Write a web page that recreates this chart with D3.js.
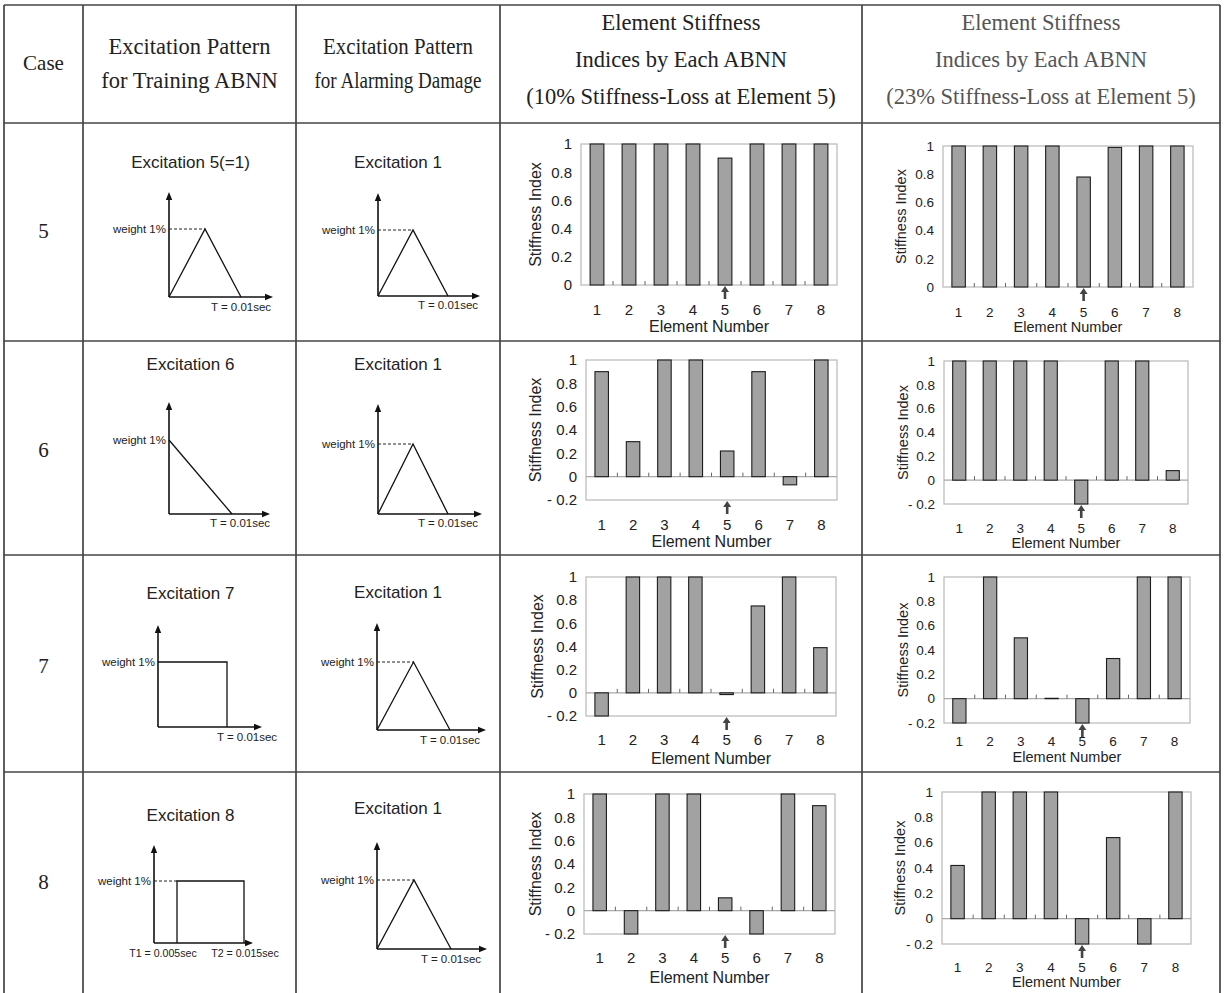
<!DOCTYPE html>
<html>
<head>
<meta charset="utf-8">
<script src="https://cdn.jsdelivr.net/npm/d3@7"></script>
<style>
  body { margin: 0; background: #fff; }
  svg { display: block; }
</style>
</head>
<body>
<div id="chart"></div>
<script>
// ---- data ----
const cases = ["5", "6", "7", "8"];
const headers = [
    ["Case"],
    ["Excitation Pattern", "for Training ABNN"],
    ["Excitation Pattern", "for Alarming Damage"],
    ["Element Stiffness", "Indices by Each ABNN", "(10% Stiffness-Loss at Element 5)"],
    ["Element Stiffness", "Indices by Each ABNN", "(23% Stiffness-Loss at Element 5)"]
];
const trainingTitles = ["Excitation 5(=1)", "Excitation 6", "Excitation 7", "Excitation 8"];
const alarmTitles = ["Excitation 1", "Excitation 1", "Excitation 1", "Excitation 1"];

// excitation shapes as [time (sec), weight (1 = 1%)]
const triangleShape = [[0, 0], [0.005, 1], [0.01, 0]];
const trainingShapes = [
    triangleShape,
    [[0, 1], [0.01, 0]],
    [[0, 1], [0.01, 1], [0.01, 0]],
    [[0.005, 0], [0.005, 1], [0.015, 1], [0.015, 0]]
];
const trainingTimeLabels = [
    [[0.01, "T = 0.01sec"]],
    [[0.01, "T = 0.01sec"]],
    [[0.01, "T = 0.01sec"]],
    [[0.005, "T1 = 0.005sec"], [0.015, "T2 = 0.015sec"]]
];
const alarmTimeLabels = [[0.01, "T = 0.01sec"]];
const weightLabel = "weight 1%";

const elements = [1, 2, 3, 4, 5, 6, 7, 8];
const damagedElement = 5;
const index10 = [
    [1, 1, 1, 1, 0.9, 1, 1, 1],
    [0.9, 0.3, 1, 1, 0.22, 0.9, -0.07, 1],
    [-0.2, 1, 1, 1, -0.015, 0.75, 1, 0.39],
    [1, -0.2, 1, 1, 0.11, -0.2, 1, 0.9]
];
const index23 = [
    [1, 1, 1, 1, 0.78, 0.99, 1, 1],
    [1, 1, 1, 1, -0.2, 1, 1, 0.08],
    [-0.2, 1, 0.5, 0.003, -0.2, 0.33, 1, 1],
    [0.42, 1, 1, 1, -0.2, 0.64, -0.2, 1]
];
const yTickValues = [-0.2, 0, 0.2, 0.4, 0.6, 0.8, 1];

// ---- layout ----
const W = 1224, H = 993;
const colX = [4, 83, 296, 500, 862, 1220];
const rowY = [5, 123, 341, 555, 772, 993];
const headerLineY = [[63], [46, 80], [46, 80], [22, 59, 96], [22, 59, 96]];
const caseY = [231, 450, 666, 882];

// dx: per time label horizontal nudge, fs: time label font size
const trainBoxes = [
    { ox: 169, oy: 297, top: 192, right: 273, wy: 229, tx: [0, 0.01], px: [0, 72], title: 162, ty: 307, dx: [0], fs: 11.5 },
    { ox: 169, oy: 514, top: 402, right: 270, wy: 440, tx: [0, 0.01], px: [0, 63], title: 364, ty: 523, dx: [8], fs: 11.5 },
    { ox: 158, oy: 727, top: 625, right: 262, wy: 662, tx: [0, 0.01], px: [0, 69], title: 593, ty: 737, dx: [20], fs: 11.5 },
    { ox: 154, oy: 943, top: 845, right: 253, wy: 881, tx: [0, 0.005, 0.015], px: [0, 23, 90], title: 815, ty: 953, dx: [-14, 1], fs: 10.6 }
];
const alarmBoxes = [
    { ox: 378, oy: 296, top: 193, right: 480, wy: 230, tx: [0, 0.01], px: [0, 70], title: 162, ty: 305, dx: [0], fs: 11.5 },
    { ox: 378, oy: 514, top: 404, right: 482, wy: 444, tx: [0, 0.01], px: [0, 70], title: 364, ty: 523, dx: [0], fs: 11.5 },
    { ox: 377, oy: 730, top: 623, right: 486, wy: 662, tx: [0, 0.01], px: [0, 73], title: 592, ty: 740, dx: [0], fs: 11.5 },
    { ox: 377, oy: 949, top: 842, right: 487, wy: 880, tx: [0, 0.01], px: [0, 74], title: 808, ty: 959, dx: [0], fs: 11.5 }
];
const charts10 = [
    { left: 581, right: 837, top: 144, bottom: 285, labelY: 310, titleY: 326, yTitleX: 535 },
    { left: 586, right: 837, top: 360, bottom: 500, labelY: 525, titleY: 541, yTitleX: 535 },
    { left: 586, right: 836, top: 577, bottom: 716, labelY: 740, titleY: 758, yTitleX: 537 },
    { left: 584, right: 835, top: 794, bottom: 934, labelY: 958, titleY: 977, yTitleX: 535 }
];
const charts23 = [
    { left: 943, right: 1193, top: 146, bottom: 287, labelY: 312, titleY: 327, yTitleX: 901 },
    { left: 944, right: 1188, top: 361, bottom: 504, labelY: 528, titleY: 543, yTitleX: 903 },
    { left: 944, right: 1190, top: 577, bottom: 723, labelY: 741, titleY: 757, yTitleX: 903 },
    { left: 942, right: 1191, top: 792, bottom: 944, labelY: 967, titleY: 982, yTitleX: 900 }
];

const serif = "'Liberation Serif', 'Times New Roman', serif";
const sans = "'Liberation Sans', Arial, sans-serif";

const svg = d3.select("#chart").append("svg")
    .attr("width", W)
    .attr("height", H);
svg.append("rect").attr("width", W).attr("height", H).attr("fill", "#fff");

// ---- table grid ----
const grid = svg.append("g").attr("stroke", "#444").attr("stroke-width", 1.7);
colX.forEach(x => {
    grid.append("line").attr("x1", x).attr("x2", x).attr("y1", rowY[0]).attr("y2", H);
});
rowY.slice(0, -1).forEach(y => {
    grid.append("line").attr("x1", colX[0]).attr("x2", colX[colX.length - 1]).attr("y1", y).attr("y2", y);
});

// ---- header ----
headers.forEach((lines, c) => {
    const cx = (colX[c] + colX[c + 1]) / 2;
    lines.forEach((t, i) => {
        const txt = svg.append("text")
            .attr("x", cx)
            .attr("y", headerLineY[c][i])
            .attr("dy", "0.35em")
            .attr("text-anchor", "middle")
            .attr("font-family", serif)
            .attr("font-size", c === 0 ? 21 : 22.5)
            .attr("fill", c === 4 ? "#555" : "#222")
            .text(t);
        if (c === 2) txt.attr("textLength", i === 0 ? 150 : 167).attr("lengthAdjust", "spacingAndGlyphs");
    });
});

cases.forEach((c, i) => {
    svg.append("text")
        .attr("x", (colX[0] + colX[1]) / 2)
        .attr("y", caseY[i])
        .attr("dy", "0.35em")
        .attr("text-anchor", "middle")
        .attr("font-family", serif)
        .attr("font-size", 21)
        .attr("fill", "#222")
        .text(c);
});

// ---- excitation diagrams ----
function drawExcitation(g, title, shape, timeLabels, b, cx) {
    const x = d3.scaleLinear().domain(b.tx).range(b.px.map(p => b.ox + p));
    const y = d3.scaleLinear().domain([0, 1]).range([b.oy, b.wy]);

    g.append("text")
        .attr("x", cx).attr("y", b.title).attr("dy", "0.35em")
        .attr("text-anchor", "middle")
        .attr("font-family", sans).attr("font-size", 17).attr("fill", "#222")
        .text(title);

    // axes with arrow heads
    g.append("line").attr("x1", b.ox).attr("y1", b.oy).attr("x2", b.ox).attr("y2", b.top + 5)
        .attr("stroke", "#111").attr("stroke-width", 1.6);
    g.append("line").attr("x1", b.ox).attr("y1", b.oy).attr("x2", b.right - 5).attr("y2", b.oy)
        .attr("stroke", "#111").attr("stroke-width", 1.6);
    g.append("path").attr("d", `M${b.ox},${b.top}L${b.ox - 3.2},${b.top + 8}L${b.ox + 3.2},${b.top + 8}Z`).attr("fill", "#111");
    g.append("path").attr("d", `M${b.right},${b.oy}L${b.right - 8},${b.oy - 3.2}L${b.right - 8},${b.oy + 3.2}Z`).attr("fill", "#111");

    // dashed guide to first full-weight point
    const first = shape.find(d => d[1] === 1);
    if (first && x(first[0]) > b.ox + 1) {
        g.append("line")
            .attr("x1", b.ox).attr("x2", x(first[0]))
            .attr("y1", y(1)).attr("y2", y(1))
            .attr("stroke", "#222").attr("stroke-width", 1).attr("stroke-dasharray", "3,2");
    }

    g.append("path")
        .attr("d", d3.line().x(d => x(d[0])).y(d => y(d[1]))(shape))
        .attr("fill", "none").attr("stroke", "#111").attr("stroke-width", 1.3);

    g.append("text")
        .attr("x", b.ox - 3).attr("y", y(1)).attr("dy", "0.35em")
        .attr("text-anchor", "end")
        .attr("font-family", sans).attr("font-size", 11.5).attr("fill", "#222")
        .text(weightLabel);

    timeLabels.forEach(([t, label], i) => {
        g.append("text")
            .attr("x", x(t) + (b.dx[i] || 0)).attr("y", b.ty).attr("dy", "0.35em")
            .attr("text-anchor", "middle")
            .attr("font-family", sans).attr("font-size", b.fs).attr("fill", "#222")
            .text(label);
    });
}

trainBoxes.forEach((b, i) => {
    drawExcitation(svg.append("g"), trainingTitles[i], trainingShapes[i], trainingTimeLabels[i], b, (colX[1] + colX[2]) / 2 + 1);
    drawExcitation(svg.append("g"), alarmTitles[i], triangleShape, alarmTimeLabels, alarmBoxes[i], (colX[2] + colX[3]) / 2);
});

// ---- stiffness index charts ----
function drawIndexChart(g, values, c, fs) {
    const yMin = d3.min(values) < 0 ? -0.2 : 0;
    const y = d3.scaleLinear().domain([yMin, 1]).range([c.bottom, c.top]);
    const x = d3.scaleBand().domain(elements).range([c.left, c.right])
        .paddingInner(0.57).paddingOuter(0.285);
    const bw = x.bandwidth();

    g.append("rect")
        .attr("x", c.left).attr("y", c.top)
        .attr("width", c.right - c.left).attr("height", c.bottom - c.top)
        .attr("fill", "none").attr("stroke", "#b8b8b8").attr("stroke-width", 1.2);
    if (yMin < 0) {
        g.append("line")
            .attr("x1", c.left).attr("x2", c.right)
            .attr("y1", y(0)).attr("y2", y(0))
            .attr("stroke", "#a8a8a8").attr("stroke-width", 1.2);
    }

    // small ticks between elements on the zero line
    g.selectAll(".sep").data(elements.slice(1)).join("line")
        .attr("x1", d => x(d) - x.step() * x.paddingInner() / 2)
        .attr("x2", d => x(d) - x.step() * x.paddingInner() / 2)
        .attr("y1", y(0)).attr("y2", y(0) - 4)
        .attr("stroke", "#666").attr("stroke-width", 1);

    g.selectAll(".bar").data(values).join("rect")
        .attr("x", (d, i) => x(elements[i]))
        .attr("y", d => y(Math.max(0, d)))
        .attr("width", bw)
        .attr("height", d => Math.abs(y(d) - y(0)))
        .attr("fill", "#a2a2a2")
        .attr("stroke", "#1c1c1c")
        .attr("stroke-width", 1.1);

    const fmt = d3.format("~g");
    const yAxis = d3.axisLeft(y)
        .tickValues(yTickValues.filter(v => v >= yMin))
        .tickSize(0)
        .tickPadding(9)
        .tickFormat(v => v < 0 ? "- " + fmt(-v) : fmt(v));
    g.append("g")
        .attr("transform", `translate(${c.left},0)`)
        .call(yAxis)
        .call(s => s.select(".domain").remove())
        .attr("font-family", sans)
        .attr("font-size", fs.tick)
        .selectAll("text").attr("fill", "#222");

    g.selectAll(".xl").data(elements).join("text")
        .attr("x", d => x(d) + bw / 2)
        .attr("y", c.labelY).attr("dy", "0.35em")
        .attr("text-anchor", "middle")
        .attr("font-family", sans).attr("font-size", fs.tick).attr("fill", "#222")
        .text(d => d);

    g.append("text")
        .attr("x", (c.left + c.right) / 2).attr("y", c.titleY).attr("dy", "0.35em")
        .attr("text-anchor", "middle")
        .attr("font-family", sans).attr("font-size", fs.title).attr("fill", "#222")
        .text("Element Number");

    g.append("text")
        .attr("transform", `translate(${c.yTitleX},${(c.top + c.bottom) / 2}) rotate(-90)`)
        .attr("dy", "0.35em")
        .attr("text-anchor", "middle")
        .attr("font-family", sans).attr("font-size", fs.title).attr("fill", "#222")
        .text("Stiffness Index");

    // arrow marking the damaged element
    const ax = x(damagedElement) + bw / 2;
    const ab = c.bottom + 1;
    g.append("path")
        .attr("d", `M${ax},${ab}L${ax - 4},${ab + 6}L${ax - 1.3},${ab + 6}L${ax - 1.3},${ab + 13}L${ax + 1.3},${ab + 13}L${ax + 1.3},${ab + 6}L${ax + 4},${ab + 6}Z`)
        .attr("fill", "#444");
}

index10.forEach((v, i) => drawIndexChart(svg.append("g"), v, charts10[i], { tick: 15, title: 16 }));
index23.forEach((v, i) => drawIndexChart(svg.append("g"), v, charts23[i], { tick: 13.5, title: 14.5 }));
</script>
</body>
</html>
